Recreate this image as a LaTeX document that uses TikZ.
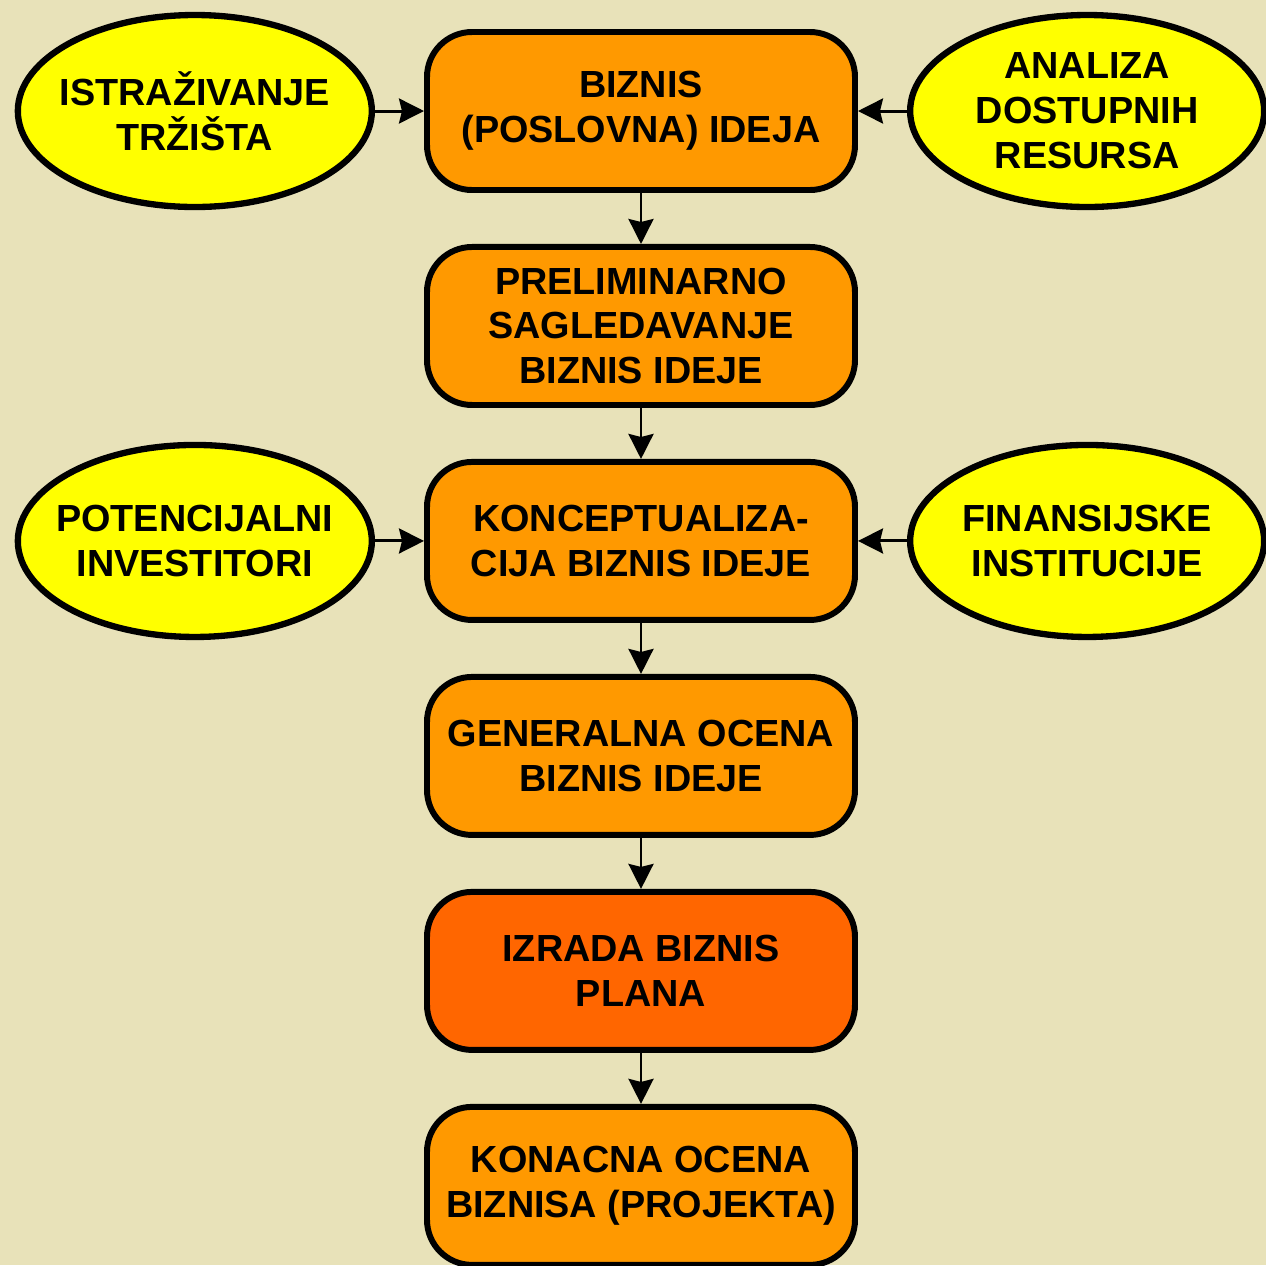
\documentclass[tikz,border=0pt]{standalone}
\usepackage{fontspec}
\setmainfont{Liberation Sans}
\usetikzlibrary{positioning,shapes.geometric,arrows.meta}
\definecolor{BgBeige}{HTML}{E8E2B9}
\definecolor{StageOrange}{HTML}{FF9900}
\definecolor{PlanOrange}{HTML}{FF6600}
\definecolor{SourceYellow}{HTML}{FFFF00}

\begin{document}
\begin{tikzpicture}[-,>={Stealth[length=0.5cm,width=0.5cm,inset=0.06cm]},auto,
    stage node/.style={rectangle,rounded corners=0.9cm,draw,line width=3.4pt,fill=StageOrange,minimum width=8.56cm,minimum height=3.16cm,inner sep=0pt,align=center,font=\fontsize{21.5}{25.6}\selectfont\bfseries},
    source node/.style={ellipse,draw,line width=3.6pt,fill=SourceYellow,minimum width=7.08cm,minimum height=3.84cm,inner xsep=-0.4cm,inner ysep=0pt,align=center,font=\fontsize{21.5}{25.6}\selectfont\bfseries}]

            \fill[BgBeige] (-12.82,2.22) rectangle (12.5,-23.08);
            \useasboundingbox (-12.82,2.22) rectangle (12.5,-23.08);

            \node[stage node] (idea) at (0,0) {BIZNIS\\(POSLOVNA) IDEJA};
            \node[stage node] (prelim) [below=1.02cm of idea] {PRELIMINARNO\\SAGLEDAVANJE\\BIZNIS IDEJE};
            \node[stage node] (concept) [below=1.02cm of prelim] {KONCEPTUALIZA-\\CIJA BIZNIS IDEJE};
            \node[stage node] (general) [below=1.02cm of concept] {GENERALNA OCENA\\BIZNIS IDEJE};
            \node[stage node,fill=PlanOrange] (plan) [below=1.02cm of general] {IZRADA BIZNIS\\PLANA};
            \node[stage node] (final) [below=1.02cm of plan] {KONACNA OCENA\\BIZNISA (PROJEKTA)};

            \node[source node] (market) [left=0.98cm of idea] {ISTRAŽIVANJE\\TRŽIŠTA};
            \node[source node] (resources) [right=0.98cm of idea] {ANALIZA\\DOSTUPNIH\\RESURSA};
            \node[source node] (investors) [left=0.98cm of concept] {POTENCIJALNI\\INVESTITORI};
            \node[source node] (finance) [right=0.98cm of concept] {FINANSIJSKE\\INSTITUCIJE};

            \path[->,line width=1.7pt]
                (market) edge (idea)
                (resources) edge (idea)
                (idea) edge (prelim)
                (prelim) edge (concept)
                (investors) edge (concept)
                (finance) edge (concept)
                (concept) edge (general)
                (general) edge (plan)
                (plan) edge (final)
                ;
        \end{tikzpicture}
\end{document}
